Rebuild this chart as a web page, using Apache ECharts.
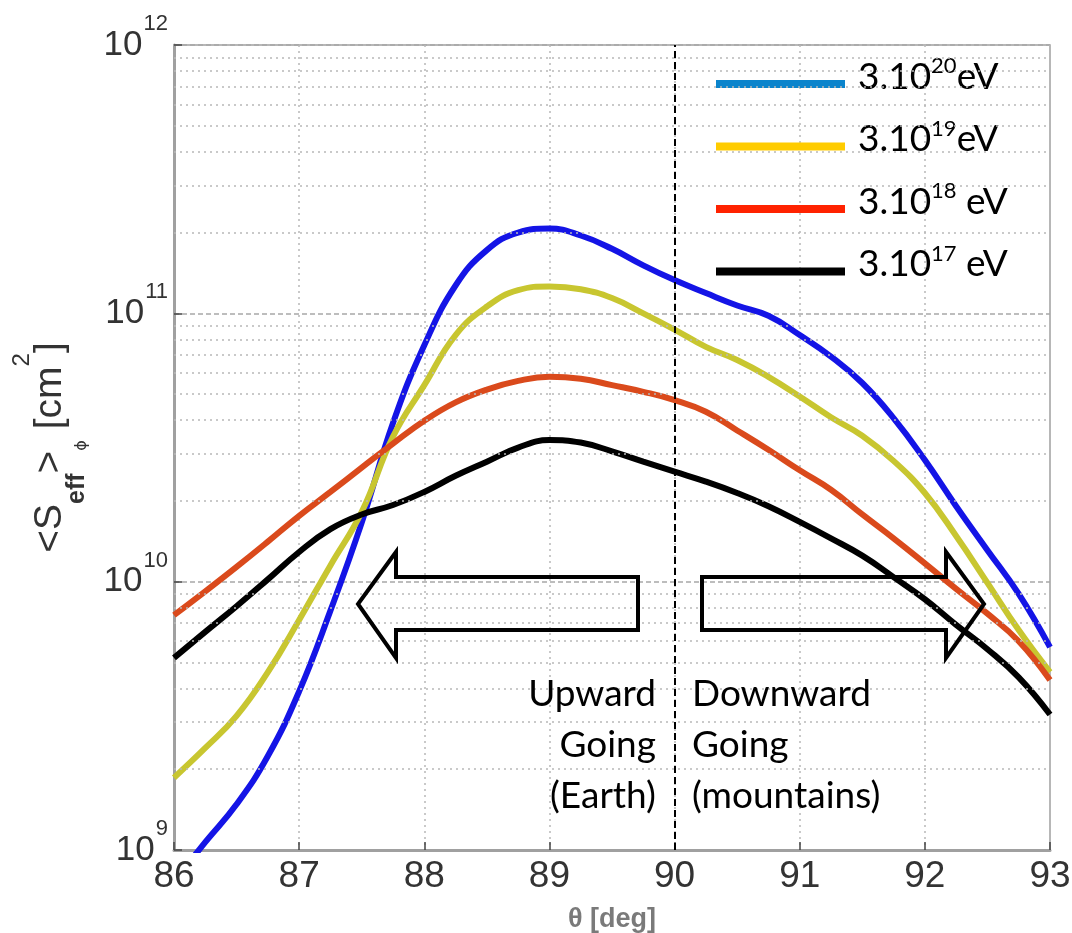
<!DOCTYPE html>
<html>
<head>
<meta charset="utf-8">
<script src="https://cdn.jsdelivr.net/npm/echarts@6/dist/echarts.min.js"></script>
<style>
  html, body { margin: 0; padding: 0; background: #fff; }
  #chart { width: 1072px; height: 933px; }
</style>
</head>
<body>
<div id="chart"></div>
<script>
// zenith angle theta [deg]
const theta = [86, 86.25, 86.5, 86.75, 87, 87.25, 87.5, 87.75, 88, 88.25, 88.5, 88.75, 89, 89.25, 89.5,
  89.75, 90, 90.25, 90.5, 90.75, 91, 91.25, 91.5, 91.75, 92, 92.25, 92.5, 92.75, 93];

// <S_eff> [cm2] for each energy
const s20 = [7.6e8, 1.07e9, 1.48e9, 2.24e9, 3.9e9, 7.8e9, 1.66e10, 3.9e10, 7.6e10, 1.27e11, 1.72e11, 2.0e11, 2.07e11, 1.95e11, 1.74e11,
  1.51e11, 1.33e11, 1.19e11, 1.07e11, 9.8e10, 8.3e10, 6.9e10, 5.5e10, 4.07e10, 2.84e10, 1.91e10, 1.31e10, 9.0e9, 5.7e9];
const s19 = [1.86e9, 2.4e9, 3.16e9, 4.6e9, 7.2e9, 1.15e10, 1.82e10, 3.47e10, 5.4e10, 8.3e10, 1.06e11, 1.22e11, 1.26e11, 1.23e11, 1.14e11,
  1.0e11, 8.7e10, 7.5e10, 6.7e10, 5.8e10, 4.9e10, 4.1e10, 3.5e10, 2.82e10, 2.14e10, 1.48e10, 9.9e9, 6.6e9, 4.6e9];
const s18 = [7.5e9, 9.2e9, 1.135e10, 1.41e10, 1.76e10, 2.16e10, 2.66e10, 3.27e10, 3.98e10, 4.66e10, 5.2e10, 5.6e10, 5.8e10, 5.7e10, 5.4e10,
  5.1e10, 4.75e10, 4.3e10, 3.66e10, 3.1e10, 2.6e10, 2.2e10, 1.78e10, 1.45e10, 1.17e10, 9.4e9, 7.6e9, 6.0e9, 4.3e9];
const s17 = [5.2e9, 6.5e9, 8.1e9, 1.02e10, 1.29e10, 1.57e10, 1.78e10, 1.93e10, 2.16e10, 2.48e10, 2.8e10, 3.16e10, 3.37e10, 3.3e10, 3.06e10,
  2.8e10, 2.57e10, 2.36e10, 2.14e10, 1.91e10, 1.67e10, 1.45e10, 1.25e10, 1.04e10, 8.6e9, 6.9e9, 5.6e9, 4.4e9, 3.2e9];

const names = ['3.10^20eV', '3.10^19eV', '3.10^18 eV', '3.10^17 eV'];
const legendText = ['{b|3.10}{s|20}{b|eV}', '{b|3.10}{s|19}{b|eV}', '{b|3.10}{s|18}{b| eV}', '{b|3.10}{s|17}{b| eV}'];
const curveColors = ['#1414e6', '#c8c630', '#da4a1c', '#000000'];
const legendColors = ['#0b84cc', '#ffcc00', '#ff2200', '#000000'];

// minor log grid lines (2..9 per decade)
const minorGrid = [2e9, 3e9, 4e9, 5e9, 6e9, 7e9, 8e9, 9e9,
  2e10, 3e10, 4e10, 5e10, 6e10, 7e10, 8e10, 9e10,
  2e11, 3e11, 4e11, 5e11, 6e11, 7e11, 8e11, 9e11];

const allSeries = [s20, s19, s18, s17];
const dotted = { color: '#b8b8b8', width: 1.5, type: [2, 4] };

const chart = echarts.init(document.getElementById('chart'));

const series = allSeries.map((vals, i) => ({
  name: names[i],
  type: 'line',
  smooth: 0.45,
  showSymbol: false,
  z: 3,
  lineStyle: { color: curveColors[i], width: 6 },
  itemStyle: { color: curveColors[i] },
  data: theta.map((t, k) => [t, vals[k]])
}));

series.push({
  type: 'line',
  data: [],
  z: 1,
  silent: true,
  markLine: {
    silent: true,
    symbol: 'none',
    label: { show: false },
    lineStyle: dotted,
    data: minorGrid.map(v => ({ yAxis: v }))
  }
});

series.push({
  type: 'line',
  data: [],
  z: 5,
  silent: true,
  markLine: {
    silent: true,
    symbol: 'none',
    label: { show: false },
    lineStyle: { color: '#000', width: 2, type: [7, 4] },
    data: [{ xAxis: 90 }]
  }
});

const textFont = 'Lato';
const axisFont = 'Liberation Sans';
const option = {
  backgroundColor: '#fff',
  animation: false,
  grid: {
    left: 174, right: 22, top: 45, bottom: 83,
    outerBoundsMode: 'none',
    show: true, borderColor: '#a0a0a0', borderWidth: 1.5
  },
  legend: {
    orient: 'vertical',
    left: 711, top: 50,
    icon: 'rect',
    itemWidth: 129, itemHeight: 8, itemGap: 22,
    data: names.map((n, i) => ({ name: n, itemStyle: { color: legendColors[i] } })),
    formatter: n => legendText[names.indexOf(n)],
    textStyle: {
      color: '#000',
      padding: [0, 0, 14, 8],
      rich: {
        b: { fontFamily: textFont, fontSize: 37, lineHeight: 44, color: '#000' },
        s: { fontFamily: textFont, fontSize: 22, lineHeight: 26, verticalAlign: 'top', color: '#000' }
      }
    }
  },
  xAxis: {
    type: 'value',
    min: 86, max: 93, interval: 1,
    name: 'θ [deg]',
    nameLocation: 'middle',
    nameGap: 56,
    nameTextStyle: { fontFamily: axisFont, fontSize: 27, fontWeight: 'bold', color: '#7a7a7a' },
    axisLine: { lineStyle: { color: '#a0a0a0', width: 3 } },
    axisTick: { inside: true, length: 8, lineStyle: { color: '#444', width: 1.5 } },
    axisLabel: { fontFamily: axisFont, fontSize: 37, color: '#333', margin: 8 },
    splitLine: { show: true, lineStyle: dotted }
  },
  yAxis: {
    type: 'log',
    logBase: 10,
    min: 1e9, max: 1e12,
    name: '{b|<S}{sub|eff}{b|>}{phi|ϕ}{b| [cm}{sup|2}{b|]}',
    nameLocation: 'middle',
    nameRotate: 90,
    nameGap: 84,
    nameTextStyle: {
      color: '#333',
      rich: {
        b: { fontFamily: axisFont, fontSize: 39, lineHeight: 80, color: '#333' },
        sub: { fontFamily: axisFont, fontSize: 25, fontWeight: 'bold', lineHeight: 36, verticalAlign: 'bottom', color: '#333' },
        phi: { fontFamily: 'DejaVu Sans', fontSize: 16, lineHeight: 26, verticalAlign: 'bottom', color: '#333' },
        sup: { fontFamily: axisFont, fontSize: 24, lineHeight: 22, verticalAlign: 'top', color: '#333' }
      }
    },
    axisLine: { show: true, lineStyle: { color: '#a0a0a0', width: 3 } },
    axisTick: { inside: true, length: 8, lineStyle: { color: '#444', width: 1.5 } },
    axisLabel: {
      margin: 6,
      formatter: v => '{b|10}{s|' + Math.round(Math.log10(v)) + '}',
      rich: {
        b: { fontFamily: axisFont, fontSize: 35, lineHeight: 64, color: '#333' },
        s: { fontFamily: axisFont, fontSize: 22, lineHeight: 22, padding: [0, 0, 0, 1], verticalAlign: 'top', color: '#333' }
      }
    },
    splitLine: { show: true, lineStyle: { color: '#a8a8a8', width: 1.5, type: [5, 3] } }
  },
  series: series
};
chart.setOption(option);

// hollow block arrows and region annotations
const arrowStyle = { fill: 'none', stroke: '#000', lineWidth: 4, lineJoin: 'miter' };
const annoFont = '37px Lato';
chart.setOption({
  graphic: [
    { type: 'polygon', z: 20, shape: { points: [[638, 577], [396, 577], [396, 552], [358, 604], [396, 658], [396, 630], [638, 630]] }, style: arrowStyle },
    { type: 'polygon', z: 20, shape: { points: [[702, 577], [946, 577], [946, 552], [984, 604], [946, 658], [946, 630], [702, 630]] }, style: arrowStyle },
    { type: 'text', z: 20, x: 656, y: 669, style: { text: 'Upward\nGoing\n(Earth)', font: annoFont, fill: '#000', align: 'right', verticalAlign: 'top', lineHeight: 51 } },
    { type: 'text', z: 20, x: 692, y: 669, style: { text: 'Downward\nGoing\n(mountains)', font: annoFont, fill: '#000', align: 'left', verticalAlign: 'top', lineHeight: 51 } }
  ]
});
</script>
</body>
</html>
